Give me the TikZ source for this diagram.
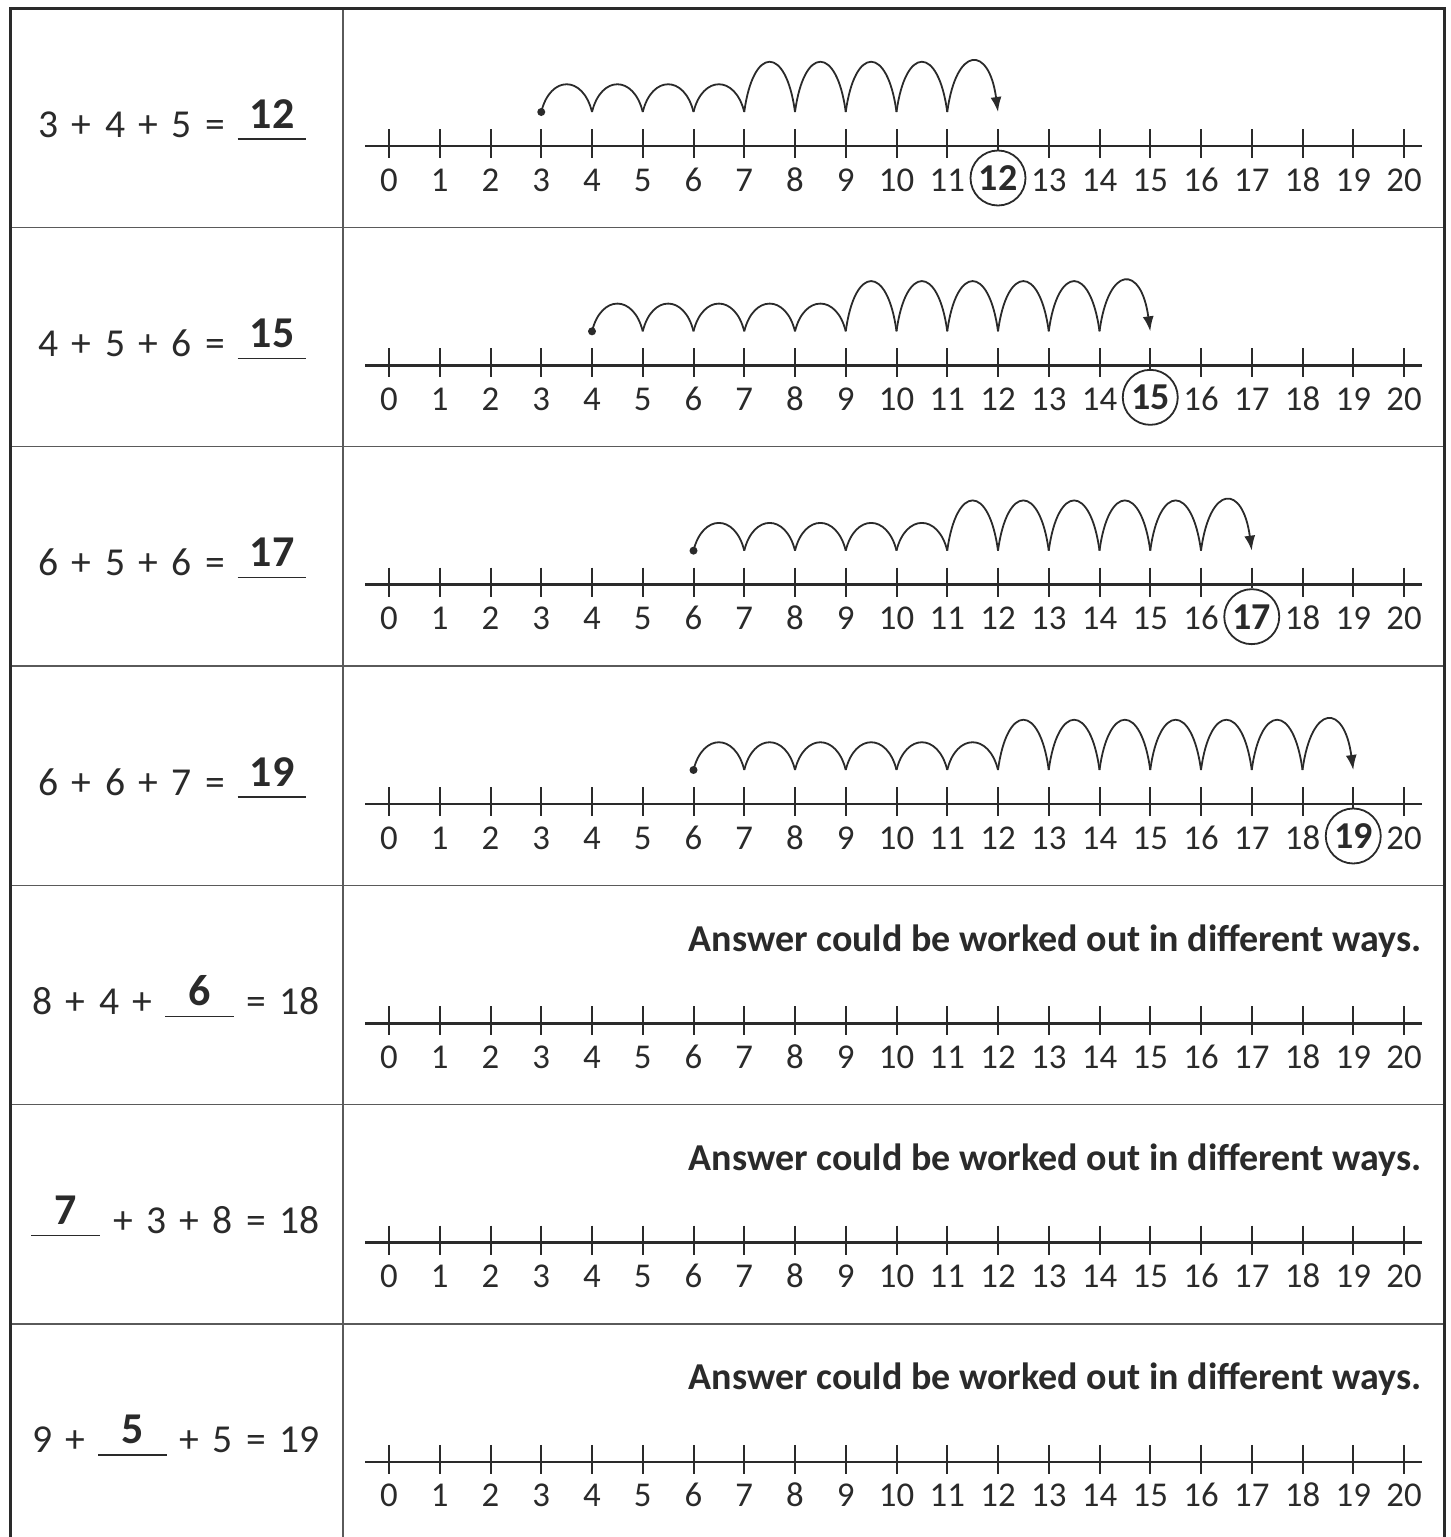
\documentclass[tikz,border=0pt]{standalone}
\usepackage{fontspec}
\setmainfont{Carlito}
\newfontfamily\sumfont{Carlito}[WordSpace=1.5]
\usetikzlibrary{arrows.meta,calc}
\definecolor{inkgrey}{HTML}{2A2A2A}
\definecolor{rulegrey}{HTML}{5A5A5A}
\newcommand{\tickgap}{50.75}

\begin{document}
\begin{tikzpicture}[
  x=0.5pt,y=-0.5pt,
  >=Latex,
  frame/.style={draw=inkgrey, line width=1.5pt},
  grid/.style={draw=rulegrey, line width=.75pt},
  axisline/.style={draw=inkgrey, line width=1.4pt},
  tickmark/.style={draw=inkgrey, line width=1pt},
  hop/.style={draw=inkgrey, line width=.9pt},
  hoplast/.style={hop, -{Latex[length=7.5pt,width=5.5pt]}},
  numlabel/.style={text=inkgrey, inner sep=0pt, font=\fontsize{17.4}{19}\selectfont},
  ring/.style={draw=inkgrey, line width=.9pt, circle, minimum size=27.5pt, inner sep=0pt, text=inkgrey, font=\fontsize{19}{21}\selectfont\bfseries},
  eqtext/.style={text=inkgrey, inner sep=0pt, font=\sumfont\fontsize{19.8}{22}\selectfont},
  blank/.style={text=inkgrey, inner sep=0pt, minimum width=34pt, font=\fontsize{22}{24}\selectfont\bfseries},
  blankline/.style={draw=inkgrey, line width=.8pt},
  note/.style={text=inkgrey, inner sep=0pt, font=\fontsize{19}{21}\selectfont\bfseries},
]
\useasboundingbox (0,0) rectangle (1451,1537);

% table
\foreach \r in {1,...,6}{\draw[grid] (10,{8+219.33*\r}) -- (1444,{8+219.33*\r});}
\draw[grid] (343,8) -- (343,1537);
\draw[frame] (10,1537) -- (10,8) -- (1444,8) -- (1444,1537);

% number lines
\foreach \r/\ans in {0/12,1/15,2/17,3/19,4/-1,5/-1,6/-1}{
  \pgfmathsetmacro\top{8+219.33*\r}
  \draw[axisline] (365,\top+138) -- (1422,\top+138);
  \foreach \n in {0,...,20}{
    \coordinate (hop\r-\n) at ({389+\n*\tickgap},\top+104);
    \ifnum\n=\ans
      \node[ring] (ring\r) at ({389+\n*\tickgap},\top+170) {\n};
      \draw[tickmark] ({389+\n*\tickgap},\top+121) -- (ring\r.north);
    \else
      \node[numlabel, anchor=base] (lab\r-\n) at ({389+\n*\tickgap},\top+183) {\n};
      \draw[tickmark] ({389+\n*\tickgap},\top+121) -- ({389+\n*\tickgap},\top+150);
    \fi
  }
}

% jumps
\foreach \r/\s/\m/\e in {0/3/7/12,1/4/9/15,2/6/11/17,3/6/12/19}{
  \pgfmathtruncatemacro\ma{\m-1}
  \pgfmathtruncatemacro\eb{\e-2}
  \fill[inkgrey] (hop\r-\s) circle (2pt);
  \foreach \n [evaluate=\n as \nx using int(\n+1)] in {\s,...,\ma}
    \draw[hop] (hop\r-\n) .. controls +(9,-37) and +(-9,-37) .. (hop\r-\nx);
  \foreach \n [evaluate=\n as \nx using int(\n+1)] in {\m,...,\eb}
    \draw[hop] (hop\r-\n) .. controls +(9,-67) and +(-9,-67) .. (hop\r-\nx);
  \pgfmathtruncatemacro\ea{\e-1}
  \draw[hoplast] (hop\r-\ea) .. controls +(9,-67) and +(-9,-67) .. (hop\r-\e);
}

% sums with the answer filled in
\foreach \r/\lhs/\ans in {0/{3 + 4 + 5 =}/12,1/{4 + 5 + 6 =}/15,2/{6 + 5 + 6 =}/17,3/{6 + 6 + 7 =}/19}{
  \pgfmathsetmacro\top{8+219.33*\r}
  \node[eqtext, anchor=base west] (sum\r) at (38,\top+129) {\lhs};
  \node[blank, anchor=base] (bl\r) at (272,\top+120) {\ans};
  \draw[blankline] ($(bl\r.base west)+(0,11)$) -- ($(bl\r.base east)+(0,11)$);
}

\pgfmathsetmacro\top{8+219.33*4}
\node[eqtext, anchor=base west] (sum4) at (32,\top+129) {8 + 4 +};
\node[blank, anchor=base] (bl4) at (199.5,\top+120) {6};
\node[eqtext, anchor=base east] (res4) at (320,\top+129) {= 18};
\pgfmathsetmacro\top{8+219.33*5}
\node[blank, anchor=base] (bl5) at (65.5,\top+120) {7};
\node[eqtext, anchor=base east] (res5) at (320,\top+129) {+ 3 + 8 = 18};
\pgfmathsetmacro\top{8+219.33*6}
\node[eqtext, anchor=base west] (sum6) at (32,\top+129) {9 +};
\node[blank, anchor=base] (bl6) at (132.5,\top+120) {5};
\node[eqtext, anchor=base east] (res6) at (320,\top+129) {+ 5 = 19};
\foreach \r in {4,5,6}{
  \draw[blankline] ($(bl\r.base west)+(0,11)$) -- ($(bl\r.base east)+(0,11)$);
  \node[note, anchor=base east] (note\r) at (1422,{8+219.33*\r+66}) {Answer could be worked out in different ways.};
}
\end{tikzpicture}
\end{document}
